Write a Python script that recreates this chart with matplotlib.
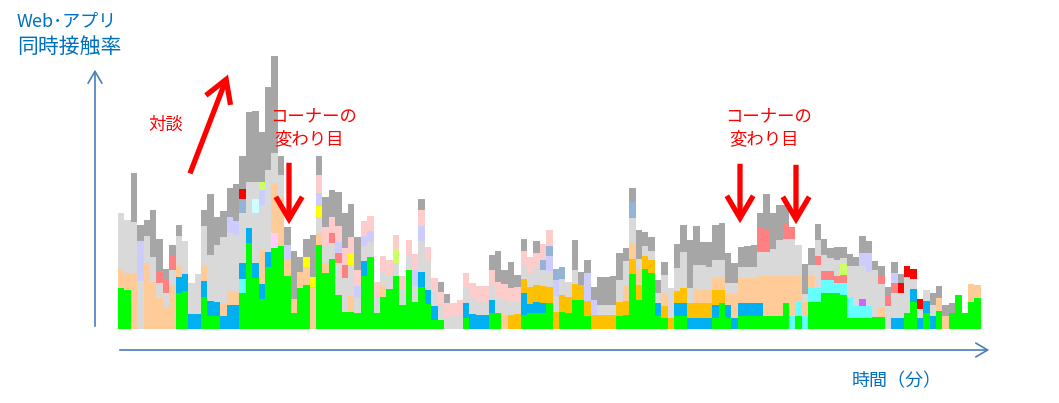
import numpy as np
import matplotlib
matplotlib.use("Agg")
import matplotlib.pyplot as plt
from matplotlib.patches import FancyArrowPatch

plt.rcParams['font.family'] = ['Noto Sans CJK JP', 'DejaVu Sans']

N_BARS = 135

# main layers, one value per minute (bottom -> top order of the stack)
green = [41, 39, 0, 0, 0, 0, 0, 0, 0, 36,
         38, 0, 0, 32, 13, 13, 0, 0, 0, 36,
         86, 51, 30, 62, 81, 83, 53, 16, 41, 44,
         0, 84, 56, 70, 34, 17, 17, 16, 53, 72,
         16, 32, 40, 53, 24, 59, 27, 42, 25, 9,
         9, 0, 0, 0, 11, 0, 0, 0, 16, 16,
         0, 0, 0, 14, 16, 16, 16, 26, 0, 17,
         16, 29, 29, 13, 0, 0, 0, 0, 13, 14,
         55, 29, 60, 56, 13, 11, 0, 13, 13, 0,
         0, 0, 0, 11, 26, 11, 0, 13, 13, 13,
         13, 13, 13, 13, 26, 0, 13, 0, 27, 27,
         36, 36, 36, 34, 11, 11, 11, 11, 12, 12,
         0, 0, 0, 16, 27, 0, 16, 0, 18, 0,
         16, 34, 16, 27, 31]

light_gray = [56, 53, 52, 48, 27, 25, 15, 14, 15, 30,
              33, 31, 40, 40, 46, 57, 66, 58, 57, 50,
              46, 50, 45, 82, 30, 22, 0, 0, 0, 0,
              0, 16, 18, 16, 32, 34, 31, 15, 15, 15,
              15, 14, 14, 13, 15, 15, 16, 31, 28, 14,
              14, 12, 13, 14, 15, 16, 13, 13, 15, 15,
              15, 13, 12, 14, 14, 17, 16, 16, 16, 16,
              15, 14, 0, 0, 0, 10, 10, 10, 22, 25,
              25, 10, 10, 9, 10, 18, 30, 23, 36, 15,
              24, 24, 22, 17, 17, 10, 10, 11, 11, 11,
              24, 24, 27, 36, 37, 37, 31, 8, 11, 23,
              0, 0, 0, 0, 31, 40, 33, 34, 47, 23,
              23, 25, 25, 36, 10, 9, 11, 11, 0, 0,
              0, 0, 0, 0, 0]

gray = [0, 0, 49, 16, 16, 47, 32, 10, 10, 11,
        0, 0, 0, 16, 61, 28, 26, 29, 37, 33,
        70, 71, 50, 83, 97, 19, 18, 48, 15, 18,
        42, 19, 30, 27, 34, 35, 33, 33, 0, 0,
        0, 0, 0, 0, 0, 0, 0, 11, 0, 0,
        10, 9, 0, 0, 0, 0, 0, 0, 15, 31,
        14, 26, 12, 12, 0, 12, 0, 0, 0, 0,
        0, 30, 13, 13, 13, 28, 28, 29, 27, 13,
        14, 29, 14, 14, 13, 13, 0, 24, 27, 48,
        39, 23, 25, 35, 37, 30, 20, 20, 21, 22,
        15, 36, 36, 35, 19, 0, 0, 30, 17, 16,
        16, 10, 13, 11, 12, 9, 17, 12, 9, 9,
        9, 11, 9, 0, 0, 0, 0, 12, 12, 11,
        10, 0, 0, 0, 0]

# smaller layers: {bar number (1-based): value}
aqua = {20: 14, 106: 13, 107: 14, 108: 13, 109: 14, 110: 14, 111: 13, 112: 13,
        113: 10, 114: 12, 115: 21, 116: 12, 117: 12, 118: 12}
purple = {117: 7}
blue = {10: 16, 11: 17, 12: 15, 13: 15, 14: 16, 15: 15, 16: 14, 17: 13, 18: 24,
        19: 24, 20: 16, 21: 15, 22: 15, 23: 15, 24: 15, 39: 15, 48: 15, 49: 14,
        50: 14, 55: 15, 56: 15, 57: 14, 58: 14, 59: 13, 64: 22, 65: 9, 66: 11,
        67: 10, 85: 13, 88: 13, 89: 13, 90: 11, 91: 11, 92: 11, 93: 11, 94: 13,
        96: 13, 97: 11, 98: 13, 99: 13, 100: 13, 101: 13, 122: 11, 123: 11,
        125: 13, 126: 11, 127: 12, 128: 13}
orange = {62: 14, 63: 15, 64: 14, 65: 17, 66: 17, 67: 17, 68: 16, 69: 17, 70: 17,
          71: 16, 72: 16, 73: 15, 74: 15, 75: 14, 76: 14, 77: 14, 78: 14, 79: 14,
          80: 14, 81: 15, 82: 15, 83: 13, 84: 13, 86: 12, 87: 11, 88: 12, 89: 15,
          90: 15, 91: 15, 92: 15, 93: 15, 94: 15, 95: 13}
pale_magenta = {25: 15}
peach = {1: 19, 2: 17, 3: 55, 5: 66, 6: 47, 7: 31, 8: 22, 9: 44, 10: 11, 14: 15,
         17: 13, 18: 14, 19: 13, 23: 34, 25: 50, 26: 49, 27: 16, 28: 14, 29: 16,
         30: 18, 31: 42, 32: 12, 33: 10, 37: 16, 42: 11, 61: 15, 80: 15, 81: 16,
         82: 16, 86: 13, 91: 14, 92: 14, 93: 14, 94: 13, 95: 13, 96: 12, 97: 25,
         98: 25, 99: 25, 100: 25, 101: 27, 102: 40, 103: 40, 104: 40, 105: 27,
         106: 40, 107: 26, 108: 14, 109: 12, 120: 10, 129: 13, 130: 13, 134: 18,
         135: 13}
light_cyan = {22: 14}
yellow = {30: 10, 31: 10, 32: 11, 37: 12}
salmon = {7: 12, 8: 14, 9: 15, 34: 10, 35: 10, 36: 13, 101: 24, 102: 22, 105: 15,
          106: 12, 110: 9, 111: 9, 112: 9, 113: 7, 114: 8, 120: 9, 121: 10, 122: 10}
lavender = {4: 40, 18: 16, 19: 14, 23: 15, 27: 15, 32: 13, 35: 11, 38: 12, 39: 10,
            40: 11, 47: 16, 48: 15, 68: 15, 69: 16, 74: 28, 75: 15, 117: 13,
            118: 19, 122: 10}
steel_blue = {20: 14, 67: 10, 68: 10, 69: 11, 70: 12, 81: 16}
lime = {23: 8, 44: 14, 114: 12}
red = {20: 10, 123: 10, 124: 11, 125: 10, 126: 10}
light_gray_upper = {22: 17, 110: 16, 111: 16, 112: 13, 113: 16, 114: 5}
pink = {32: 18, 33: 18, 34: 16, 35: 16, 36: 17, 37: 16, 38: 16, 39: 15, 40: 15,
        41: 16, 42: 16, 43: 15, 44: 14, 45: 14, 46: 15, 47: 16, 48: 16, 49: 15,
        50: 14, 51: 14, 52: 14, 53: 13, 54: 15, 55: 15, 56: 15, 57: 16, 58: 16,
        59: 15, 60: 16, 61: 15, 62: 14, 63: 15, 64: 14, 65: 16, 66: 15, 67: 16,
        68: 16}


def full(d):
    if isinstance(d, dict):
        out = np.zeros(N_BARS)
        for k, v in d.items():
            out[k - 1] = v
        return out
    return np.array(d, dtype=float)


layers = [
    (green, '#00ff00'),
    (aqua, '#66ffff'),
    (purple, '#cc66ff'),
    (blue, '#00b0f0'),
    (orange, '#ffc000'),
    (pale_magenta, '#ffccff'),
    (peach, '#ffcc99'),
    (light_gray, '#d9d9d9'),
    (light_cyan, '#ccffff'),
    (yellow, '#ffff00'),
    (salmon, '#ff8080'),
    (lavender, '#ccccff'),
    (steel_blue, '#95b3d7'),
    (lime, '#ccff66'),
    (red, '#ff0000'),
    (light_gray_upper, '#d9d9d9'),
    (pink, '#ffcccc'),
    (gray, '#a6a6a6'),
]

W, H = 1059, 403
fig = plt.figure(figsize=(W / 100, H / 100), dpi=100)


def fpos(x, y):
    # pixel position from top-left -> figure fraction
    return (x / W, 1 - y / H)


ax = fig.add_axes([118 / W, (H - 329) / H, (980.7 - 118) / W, 280 / H])
x = np.arange(N_BARS)
bottom = np.zeros(N_BARS)
for vals, col in layers:
    v = full(vals)
    ax.bar(x, v, bottom=bottom, width=1.0, align='edge', color=col,
           linewidth=0, antialiased=False)
    bottom += v
ax.set_xlim(0, N_BARS)
ax.set_ylim(0, 280)
ax.axis('off')

# axes arrows
axis_col = '#4a7ebb'
for a, b in [((95, 329), (95, 67)), ((117, 350), (992, 350))]:
    fig.add_artist(FancyArrowPatch(fpos(*a), fpos(*b), transform=fig.transFigure,
                                   arrowstyle='->,head_length=0.85,head_width=0.5',
                                   mutation_scale=10, lw=1.2, color=axis_col))

# red arrows
arrow_style = '->,head_length=1.6,head_width=0.95'
for a, b in [((189, 176), (229, 72)), ((289, 160), (289, 227)),
             ((740, 161), (740, 226)), ((796, 162), (796, 227))]:
    fig.add_artist(FancyArrowPatch(fpos(*a), fpos(*b), transform=fig.transFigure,
                                   arrowstyle=arrow_style, mutation_scale=10,
                                   lw=3.8, color='#ff0000', joinstyle='miter',
                                   capstyle='butt'))

blue_txt = '#0070c0'
fig.text(*fpos(17, 21), 'Web･アプリ', color=blue_txt, fontsize=13, va='center', ha='left')
fig.text(*fpos(17, 47), '同時接触率', color=blue_txt, fontsize=15, va='center', ha='left')
fig.text(*fpos(897, 381), '時間（分）', color=blue_txt, fontsize=13, va='center', ha='center')

red_txt = '#ff0000'
fig.text(*fpos(166, 125), '対談', color=red_txt, fontsize=12.5, va='center', ha='center')
for cx in (314, 769):
    fig.text(*fpos(cx, 116), 'コーナーの', color=red_txt, fontsize=12.5, va='center', ha='center')
    fig.text(*fpos(cx - 5, 139), '変わり目', color=red_txt, fontsize=12.5, va='center', ha='center')

fig.savefig('out.png', dpi=100)
